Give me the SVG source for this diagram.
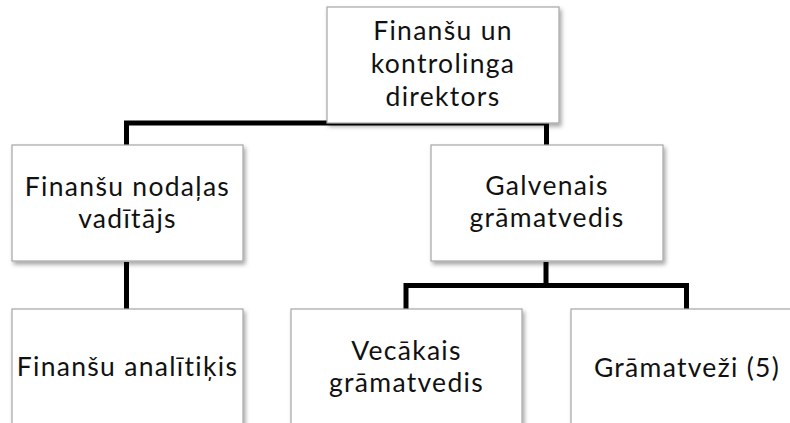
<svg xmlns="http://www.w3.org/2000/svg" width="790" height="423" viewBox="0 0 790 423">
<defs>
<filter id="sh" x="-10%" y="-10%" width="125%" height="130%">
<feDropShadow dx="2" dy="3" stdDeviation="2" flood-color="#000" flood-opacity="0.35"/>
</filter>
<style>
.box{fill:#fff;stroke:#a6a6a6;stroke-width:1.2;filter:url(#sh)}
.t{font-family:Lato,"Open Sans",sans-serif;font-size:26.5px;letter-spacing:1.3px;fill:#111;text-anchor:middle}
.c{fill:none;stroke:#000;stroke-width:5;stroke-linejoin:miter}
</style>
</defs>
<rect width="790" height="423" fill="#fff"/>
<g id="connectors">
<path class="c" d="M126.5,146 V123 H546.5 V146"/>
<path class="c" d="M126.5,262 V310"/>
<path class="c" d="M546,262 V285.5 H406 V310 M546,285.5 H686.5 V310"/>
</g>
<g id="n1">
<rect class="box" x="327" y="7" width="232" height="116"/>
<text class="t" x="443" y="40">Finanšu un</text>
<text class="t" x="443" y="73">kontrolinga</text>
<text class="t" x="443" y="106">direktors</text>
</g>
<g id="n2">
<rect class="box" x="12" y="145" width="231" height="116"/>
<text class="t" x="127.5" y="196">Finanšu nodaļas</text>
<text class="t" x="127.5" y="228">vadītājs</text>
</g>
<g id="n3">
<rect class="box" x="431" y="145" width="232" height="116"/>
<text class="t" x="547" y="195">Galvenais</text>
<text class="t" x="547" y="227">grāmatvedis</text>
</g>
<g id="n4">
<rect class="box" x="12" y="309" width="231" height="116"/>
<text class="t" x="127.5" y="376">Finanšu analītiķis</text>
</g>
<g id="n5">
<rect class="box" x="291" y="309" width="231" height="116"/>
<text class="t" x="406.5" y="360">Vecākais</text>
<text class="t" x="406.5" y="392">grāmatvedis</text>
</g>
<g id="n6">
<rect class="box" x="571" y="309" width="232" height="116"/>
<text class="t" x="687" y="377">Grāmatveži (5)</text>
</g>
</svg>
